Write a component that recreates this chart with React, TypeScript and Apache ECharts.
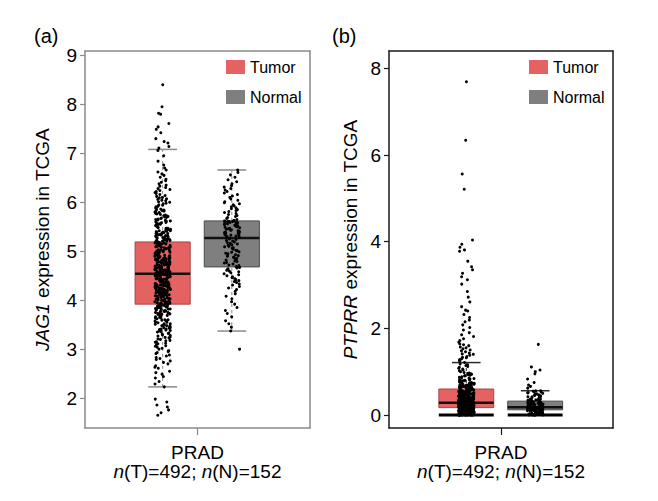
import React, { useEffect, useRef } from 'react';
import * as echarts from 'echarts';

// ---------- data ----------
const category = 'PRAD';
const tumorN = 492;
const normalN = 152;
const groups = ['Tumor', 'Normal'];
const jagTicks = [2, 3, 4, 5, 6, 7, 8, 9];
const ptprrTicks = [0, 2, 4, 6, 8];
const jagRange = [1.39, 9.09];
const ptprrRange = [-0.3, 8.4];

// box stats: [lower whisker, Q1, median, Q3, upper whisker]
const jagTumorBox = [2.23, 3.92, 4.54, 5.19, 7.08];
const jagNormalBox = [3.37, 4.68, 5.27, 5.62, 6.66];
const ptprrTumorBox = [0, 0.17, 0.28, 0.6, 1.21];
const ptprrNormalBox = [0, 0.12, 0.18, 0.32, 0.56];

const jagTumor = [
  1.65,1.7,1.76,1.82,1.86,1.92,1.98,
  2.23,2.29,2.34,2.41,2.44,2.49,
  2.52,2.55,2.61,2.63,2.66,2.7,2.73,2.76,2.79,
  2.81,2.83,2.86,2.88,2.91,2.93,2.95,2.97,3,3.02,3.04,3.06,3.07,3.09,
  3.11,3.12,3.14,3.15,3.17,3.18,3.2,3.21,3.23,3.24,3.25,3.27,3.28,3.29,3.31,3.32,3.33,3.35,3.36,3.37,3.38,3.39,
  3.4,3.41,3.41,3.43,3.44,3.44,3.46,3.47,3.48,3.48,3.5,3.51,3.52,3.52,3.54,3.55,3.55,3.57,3.58,3.59,3.6,3.6,3.62,3.63,3.64,3.65,3.66,3.67,3.68,3.69,
  3.7,3.71,3.71,3.72,3.73,3.73,3.74,3.75,3.75,3.76,3.77,3.77,3.78,3.78,3.79,3.8,3.8,3.81,3.82,3.82,3.83,3.84,3.84,3.85,3.86,3.86,3.87,3.87,3.88,3.89,3.89,3.9,3.9,3.91,3.92,
  3.93,3.93,3.94,3.94,3.95,3.96,3.96,3.97,3.97,3.98,3.99,3.99,4,4,4.01,4.02,4.02,4.03,4.03,4.04,
  4.05,4.05,4.06,4.06,4.07,4.08,4.08,4.09,4.09,4.1,4.1,4.11,4.11,4.12,4.12,4.13,4.13,4.14,4.14,4.15,
  4.15,4.16,4.16,4.17,4.17,4.18,4.18,4.19,4.19,4.19,4.2,4.2,4.21,4.21,4.22,
  4.22,4.23,4.23,4.24,4.24,4.25,4.25,4.26,4.26,4.27,4.27,4.28,4.28,4.29,4.29,4.3,4.3,4.31,4.31,4.32,
  4.32,4.33,4.33,4.34,4.34,4.35,4.35,4.36,4.36,4.37,4.37,4.38,4.38,4.39,4.39,4.4,4.4,4.41,4.41,4.42,
  4.42,4.43,4.43,4.44,4.44,4.45,4.45,4.46,4.46,4.47,4.47,4.48,4.48,4.49,4.49,4.5,4.5,4.51,4.51,4.52,
  4.52,4.52,4.53,4.53,4.53,4.54,4.54,4.54,
  4.55,4.55,4.56,4.56,4.57,4.57,4.58,4.58,4.59,4.59,4.6,4.6,4.61,4.61,4.62,4.62,4.63,4.63,4.64,4.64,
  4.65,4.65,4.66,4.66,4.67,4.67,4.68,4.68,4.69,4.69,4.7,4.7,4.71,4.71,4.72,4.72,4.73,4.73,4.74,4.74,
  4.75,4.75,4.76,4.76,4.77,4.77,4.78,4.78,4.79,4.79,4.8,4.8,4.81,4.81,4.82,4.82,4.83,4.83,4.84,4.84,
  4.85,4.85,4.86,
  4.87,4.87,4.88,4.89,4.89,4.9,4.91,4.91,4.92,4.93,4.93,4.94,4.95,4.95,4.96,4.97,4.97,4.98,4.99,4.99,
  5,5.01,5.01,5.02,5.03,5.03,5.04,5.05,5.05,5.06,5.07,5.07,5.08,5.09,5.09,5.1,5.11,5.11,5.12,5.13,
  5.13,5.14,5.15,5.15,5.16,5.17,5.17,5.18,5.19,5.19,5.2,5.21,5.21,5.22,5.23,5.23,5.24,5.25,5.26,5.27,
  5.25,5.28,5.29,5.29,5.3,5.31,5.31,5.32,5.33,5.33,5.34,5.35,5.36,5.36,5.37,5.38,5.38,5.39,5.4,5.41,
  5.42,5.42,5.43,5.44,5.44,5.45,5.46,5.47,5.47,5.48,5.49,5.5,5.51,5.52,5.53,
  5.54,5.55,5.56,5.57,5.58,5.59,5.6,5.61,5.62,5.63,5.64,5.65,5.66,5.67,5.68,5.69,5.7,5.71,5.72,5.73,
  5.74,5.75,5.76,5.77,5.78,5.79,5.8,5.81,5.82,5.83,5.84,5.85,5.86,
  5.88,5.89,5.91,5.92,5.94,5.95,5.97,5.98,6,6.01,6.03,6.04,6.06,6.07,6.09,6.1,6.12,6.14,
  6.16,6.18,6.2,6.22,6.24,6.26,6.28,6.3,6.33,6.35,6.38,6.41,
  6.44,6.47,6.51,6.55,6.58,6.62,6.66,6.7,
  6.76,6.84,6.95,7.06,
  7.11,7.14,7.21,7.24,7.3,7.42,7.49,7.54,7.61,7.8,7.82,7.95,8.4,
];

const jagNormal = [
  3,
  3.37,3.45,3.52,3.58,3.66,3.73,3.79,3.85,3.92,3.97,4.03,4.08,4.13,4.18,
  4.22,4.25,4.28,4.31,4.33,4.36,4.38,4.4,4.42,4.44,4.46,4.48,4.5,4.52,4.54,4.56,4.58,4.59,4.61,4.63,4.64,4.66,4.67,
  4.69,4.71,4.72,4.74,4.76,4.77,4.79,4.8,4.82,4.84,4.85,4.87,4.88,4.9,4.91,4.93,4.95,4.96,4.98,4.99,
  5.01,5.02,5.04,5.06,5.07,5.09,5.1,5.12,5.13,5.15,5.16,5.18,5.19,5.21,5.22,5.24,5.25,5.27,
  5.28,5.29,5.3,5.31,5.32,5.33,5.34,5.35,5.36,5.37,5.38,5.38,5.39,5.4,5.41,5.42,5.43,5.44,5.45,5.46,
  5.47,5.48,5.49,5.5,5.51,5.52,5.53,5.54,5.55,5.56,5.57,5.58,5.59,5.59,5.6,5.61,5.61,5.62,
  5.63,5.65,5.67,5.69,5.71,5.73,5.75,5.77,5.79,5.81,5.83,5.85,5.87,5.89,5.91,5.93,5.95,5.97,5.99,6.01,
  6.04,6.07,6.1,6.13,6.16,6.19,6.22,6.25,6.28,6.31,6.34,6.38,6.42,6.46,6.51,6.56,6.61,6.66,
];

const ptprrTumor = [
  0,0,0,0,0,0,0,0,0,0,0,0,0,0,0,
  .01,.01,.01,.01,.01,.01,.01,.01,.02,.02,.02,.02,.02,.02,.02,.02,
  .03,.03,.03,.03,.03,.03,.03,.04,.04,.04,.04,.04,.04,.04,.05,.05,.05,.05,.05,.05,.05,
  .06,.06,.06,.06,.06,.06,.06,.07,.07,.07,.07,.07,.07,.07,
  .08,.08,.08,.08,.08,.08,.09,.09,.09,.09,.09,.09,.1,.1,.1,.1,.1,.1,
  .11,.11,.11,.11,.11,.11,.12,.12,.12,.12,.12,.12,.13,.13,.13,.13,.13,.13,
  .14,.14,.14,.14,.14,.15,.15,.15,.15,.15,.16,.16,.16,.16,.16,.17,.17,.17,.17,.17,.17,
  .18,.18,.18,.18,.18,.18,.18,.18,.18,.18,.18,.19,.19,.19,.19,.19,.19,.19,.19,.19,.19,.19,
  .2,.2,.2,.2,.2,.2,.2,.2,.2,.2,.2,.21,.21,.21,.21,.21,.21,.21,.21,.21,.21,.21,
  .22,.22,.22,.22,.22,.22,.22,.22,.22,.22,.22,.23,.23,.23,.23,.23,.23,.23,.23,.23,.23,.23,
  .24,.24,.24,.24,.24,.24,.24,.24,.24,.24,.24,.25,.25,.25,.25,.25,.25,.25,.25,.25,.25,.25,
  .26,.26,.26,.26,.26,.26,.26,.26,.26,.26,.26,.27,.27,.27,.27,.27,.27,.27,.27,.27,.27,.27,
  .28,.28,.28,.28,.28,.28,.28,.28,.28,.28,.28,.28,.28,
  .29,.29,.29,.29,.29,.3,.3,.3,.3,.3,.31,.31,.31,.31,.31,.32,.32,.32,.32,.32,
  .33,.33,.33,.33,.33,.34,.34,.34,.34,.34,.35,.35,.35,.35,.35,.36,.36,.36,.36,.36,
  .37,.37,.37,.37,.37,.38,.38,.38,.38,.38,.39,.39,.39,.39,.39,.4,.4,.4,.4,.4,
  .41,.41,.41,.41,.42,.42,.42,.42,.43,.43,.43,.43,.44,.44,.44,.44,.45,.45,.45,.45,
  .46,.46,.46,.46,.47,.47,.47,.47,.48,.48,.48,.48,.49,.49,.49,.49,.5,.5,.5,.5,
  .51,.51,.51,.52,.52,.53,.53,.53,.54,.54,.55,.55,.55,.56,.56,.57,.57,.58,.58,.59,.59,.6,.6,
  .61,.61,.62,.62,.63,.63,.64,.64,.65,.65,.66,.66,.67,.67,.68,.68,.69,.69,.7,.7,
  .71,.71,.72,.72,.73,.73,.74,.74,.75,.75,.76,.76,.77,.77,.78,.78,.79,.79,.8,.8,
  .81,.82,.83,.84,.85,.86,.87,.88,.9,.91,.92,.93,.94,.95,.96,.97,.98,1,
  1.02,1.04,1.06,1.08,1.1,1.12,1.14,1.16,1.18,1.21,
  1.25,1.26,1.28,1.3,1.32,1.33,1.35,1.38,1.4,1.41,1.43,1.46,1.48,1.5,1.53,1.55,1.57,1.6,1.62,1.64,
  1.68,1.72,1.76,1.81,1.85,1.9,1.96,2.02,2.08,2.15,2.19,2.25,2.32,2.4,2.42,2.5,2.61,2.72,2.85,3.02,
  3.12,3.19,3.27,3.35,3.42,3.55,3.78,3.81,3.87,3.94,4.04,5.21,5.56,6.34,7.69,
];

const ptprrNormal = [
  0,0,0,0,0,0,.01,.01,.01,.02,.02,.02,.03,.03,.03,.04,.04,.04,.05,.05,.05,
  .06,.06,.07,.07,.08,.08,.09,.09,.1,.1,.1,.11,.11,.11,.12,.12,.12,
  .13,.13,.13,.13,.13,.13,.14,.14,.14,.14,.14,.14,.15,.15,.15,.15,.15,.15,.15,
  .16,.16,.16,.16,.16,.16,.16,.17,.17,.17,.17,.17,.17,.18,.18,.18,.18,.18,.18,
  .19,.19,.19,.2,.2,.2,.21,.21,.21,.22,.22,.22,.23,.23,.23,.24,.24,.24,
  .25,.25,.25,.25,.26,.26,.26,.27,.27,.28,.28,.28,.29,.29,.3,.31,.32,
  .33,.34,.34,.35,.36,.36,.37,.38,.39,.4,.41,.42,.42,.43,.44,.45,.46,.47,.48,.49,
  .5,.51,.52,.53,.54,.55,.56,.56,
  .62,.66,.69,.75,.83,.95,1,1.04,1.11,1.63,
];

// ---------- style ----------
const FONT = '"Liberation Sans", Arial, Helvetica, sans-serif';
const COLORS: Record<string, { fill: string; stroke: string }> = {
  Tumor: { fill: '#E46262', stroke: '#A84646' },
  Normal: { fill: '#7F7F7F', stroke: '#4A4A4A' },
};
const OFFSET: Record<string, number> = { Tumor: -0.31, Normal: 0.305 };
const BOX_HALF = 0.245;
const CAP_HALF = 0.128;
const JITTER = 0.07;

const panels = [
  {
    tag: '(a)',
    tagLeft: 34,
    gene: 'JAG1',
    range: jagRange,
    ticks: jagTicks,
    boxes: { Tumor: jagTumorBox, Normal: jagNormalBox },
    points: { Tumor: jagTumor, Normal: jagNormal },
    grid: { left: 85, right: 348, top: 51, bottom: 73 },
    frame: '#8A8A8A',
    cap: '#8A8A8A',
    fullLowCap: false,
    nameGap: 33,
    legendLeft: 226,
  },
  {
    tag: '(b)',
    tagLeft: 332,
    gene: 'PTPRR',
    range: ptprrRange,
    ticks: ptprrTicks,
    boxes: { Tumor: ptprrTumorBox, Normal: ptprrNormalBox },
    points: { Tumor: ptprrTumor, Normal: ptprrNormal },
    grid: { left: 389, right: 45, top: 51, bottom: 73 },
    frame: '#1A1A1A',
    cap: '#2A2A2A',
    fullLowCap: true,
    nameGap: 29,
    legendLeft: 529,
  },
];

// deterministic horizontal spread of the dots (position only, not data): integer hash of the index
const spread = (i: number) => {
  let h = (i + 1) | 0;
  h = Math.imul(h ^ (h >>> 16), 0x45d9f3b);
  h = Math.imul(h ^ (h >>> 16), 0x45d9f3b);
  h = h ^ (h >>> 16);
  return (h >>> 0) / 4294967296;
};
const jitter = (i: number) => (spread(i) - 0.5) * 2 * JITTER;

function boxRenderer(panel: any, name: string) {
  return (params: any, api: any) => {
    const x = api.value(0);
    const lo = api.value(1), q1 = api.value(2), med = api.value(3), q3 = api.value(4), hi = api.value(5);
    const p = (dx: number, v: number) => api.coord([x + dx, v]);
    const seg = (a: number[], b: number[], style: any) => ({
      type: 'line',
      shape: { x1: a[0], y1: a[1], x2: b[0], y2: b[1] },
      style,
    });
    const tl = p(-BOX_HALF, q3);
    const br = p(BOX_HALF, q1);
    const children: any[] = [
      seg(p(0, q3), p(0, hi), { stroke: panel.cap, lineWidth: 1, lineDash: [3, 3] }),
      seg(p(0, lo), p(0, q1), { stroke: panel.cap, lineWidth: 1, lineDash: [3, 3] }),
      seg(p(-CAP_HALF, hi), p(CAP_HALF, hi), { stroke: panel.cap, lineWidth: 1.5 }),
      panel.fullLowCap
        ? seg(p(-BOX_HALF, lo), p(BOX_HALF, lo), { stroke: '#000', lineWidth: 3 })
        : seg(p(-CAP_HALF, lo), p(CAP_HALF, lo), { stroke: panel.cap, lineWidth: 1.5 }),
      {
        type: 'rect',
        shape: { x: tl[0], y: tl[1], width: br[0] - tl[0], height: br[1] - tl[1] },
        style: { fill: COLORS[name].fill, stroke: COLORS[name].stroke, lineWidth: 1 },
      },
      seg(p(-BOX_HALF, med), p(BOX_HALF, med), { stroke: '#111', lineWidth: 2.5 }),
    ];
    return { type: 'group', children };
  };
}

export default function App() {
  const ref = useRef<HTMLDivElement>(null);
  useEffect(() => {
    document.body.style.margin = '0';
    const chart = echarts.init(ref.current!, null, { renderer: 'svg' });
    const grid: any[] = [];
    const xAxis: any[] = [];
    const yAxis: any[] = [];
    const series: any[] = [];
    const legend: any[] = [];
    const graphic: any[] = [];
    panels.forEach((panel, pi) => {
      const frameLine = { show: true, onZero: false, lineStyle: { color: panel.frame, width: 1.5 } };
      grid.push({ ...panel.grid });
      xAxis.push({
        type: 'value',
        gridIndex: pi,
        position: 'bottom',
        min: -1,
        max: 1,
        splitLine: { show: false },
        axisLine: frameLine,
        axisTick: { show: true, customValues: [0], length: 7, lineStyle: { color: panel.frame, width: 1.2 } },
        axisLabel: {
          customValues: [0],
          formatter: () => `${category}\n{i|n}(T)=${tumorN}; {i|n}(N)=${normalN}`,
          fontSize: 19,
          lineHeight: 19,
          color: '#000',
          fontFamily: FONT,
          margin: 15,
          rich: { i: { fontStyle: 'italic', fontSize: 19, lineHeight: 19, fontFamily: FONT, color: '#000' } },
        },
      });
      xAxis.push({
        type: 'value',
        gridIndex: pi,
        position: 'top',
        min: -1,
        max: 1,
        splitLine: { show: false },
        axisLine: frameLine,
        axisTick: { show: false },
        axisLabel: { show: false },
      });
      yAxis.push({
        type: 'value',
        gridIndex: pi,
        position: 'left',
        min: panel.range[0],
        max: panel.range[1],
        splitLine: { show: false },
        axisLine: frameLine,
        axisTick: { show: true, customValues: panel.ticks, length: 5, lineStyle: { color: panel.frame, width: 1.2 } },
        axisLabel: { customValues: panel.ticks, fontSize: 19, color: '#000', fontFamily: FONT, margin: 8 },
        name: `{i|${panel.gene}} expression in TCGA`,
        nameLocation: 'middle',
        nameGap: panel.nameGap,
        nameTextStyle: {
          fontSize: 19,
          color: '#000',
          fontFamily: FONT,
          rich: { i: { fontStyle: 'italic', fontSize: 19, fontFamily: FONT, color: '#000' } },
        },
      });
      yAxis.push({
        type: 'value',
        gridIndex: pi,
        position: 'right',
        min: panel.range[0],
        max: panel.range[1],
        splitLine: { show: false },
        axisLine: frameLine,
        axisTick: { show: false },
        axisLabel: { show: false },
      });
      const xi = pi * 2;
      const yi = pi * 2;
      groups.forEach((name) => {
        const stats = (panel.boxes as any)[name] as number[];
        series.push({
          type: 'custom',
          name,
          xAxisIndex: xi,
          yAxisIndex: yi,
          itemStyle: { color: COLORS[name].fill },
          encode: { x: 0, y: [1, 2, 3, 4, 5] },
          data: [[OFFSET[name], ...stats]],
          renderItem: boxRenderer(panel, name),
          z: 2,
          silent: true,
        });
      });
      groups.forEach((name) => {
        const vals = (panel.points as any)[name] as number[];
        series.push({
          type: 'scatter',
          name: `${panel.gene} ${name} samples`,
          xAxisIndex: xi,
          yAxisIndex: yi,
          symbolSize: 3,
          itemStyle: { color: '#000', opacity: 1 },
          data: vals.map((v, i) => [OFFSET[name] + jitter(i + (name === 'Normal' ? 1000 : 0)), v]),
          z: 5,
          silent: true,
        });
      });
      legend.push({
        data: groups.map((name) => ({ name, icon: 'rect', itemStyle: { color: COLORS[name].fill, borderWidth: 0 } })),
        orient: 'vertical',
        left: panel.legendLeft,
        top: 59,
        itemWidth: 19,
        itemHeight: 14,
        itemGap: 14,
        padding: 0,
        selectedMode: false,
        textStyle: { fontSize: 16, color: '#000', fontFamily: FONT },
      });
      graphic.push({
        type: 'text',
        left: panel.tagLeft,
        top: 26,
        style: { text: panel.tag, fontSize: 20, fontFamily: FONT, fill: '#000' },
      });
    });
    chart.setOption({
      animation: false,
      backgroundColor: '#fff',
      grid,
      xAxis,
      yAxis,
      series,
      legend,
      graphic,
    });
    return () => chart.dispose();
  }, []);
  return <div ref={ref} style={{ width: 658, height: 501 }} />;
}
